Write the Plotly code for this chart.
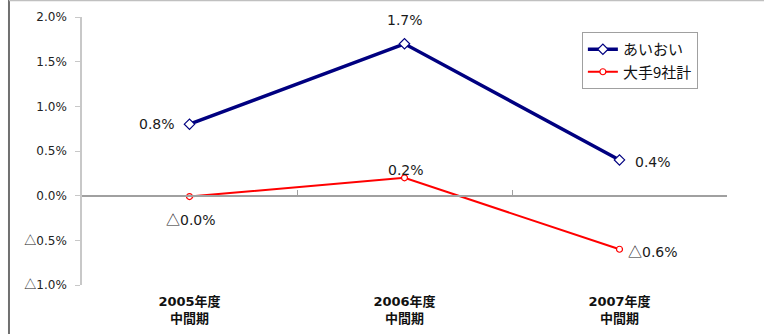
import plotly.graph_objects as go

categories = ["2005年度<br>中間期", "2006年度<br>中間期", "2007年度<br>中間期"]
aioi = [0.8, 1.7, 0.4]
big9 = [-0.01, 0.2, -0.6]
aioi_labels = ["0.8%", "1.7%", "0.4%"]
big9_labels = ["△0.0%", "0.2%", "△0.6%"]
ytick_vals = [2.0, 1.5, 1.0, 0.5, 0.0, -0.5, -1.0]
ytick_text = ["2.0%", "1.5%", "1.0%", "0.5%", "0.0%", "△0.5%", "△1.0%"]

xpos = [i + 0.5 for i in range(len(categories))]
FONT = "'DejaVu Sans', 'Noto Sans CJK JP', sans-serif"
CJK = "'Noto Sans CJK JP', 'DejaVu Sans', sans-serif"


def tri(s):
    # render the full-width triangle with the CJK font, as in the original
    return s.replace("△", "<span style='font-family:\"Noto Sans CJK JP\"'>△</span>")


fig = go.Figure()
fig.add_trace(go.Scatter(
    x=xpos, y=aioi, name="あいおい", mode="lines+markers",
    line=dict(color="#000080", width=3.5),
    marker=dict(symbol="diamond", size=8, color="white", line=dict(color="#000080", width=1.2)),
))
fig.add_trace(go.Scatter(
    x=xpos, y=big9, name="大手9社計", mode="lines+markers",
    line=dict(color="#FF0000", width=2),
    marker=dict(symbol="circle", size=6, color="white", line=dict(color="#FF0000", width=1.2)),
))
# invisible trace carrying the zero-line axis with boundary ticks
fig.add_trace(go.Scatter(x=[0, len(categories)], y=[0, 0], xaxis="x2", mode="lines",
                         line=dict(width=0), showlegend=False, hoverinfo="skip"))

# data label placement styles (offsets in px)
aioi_style = [dict(xanchor="right", yanchor="middle", xshift=-13, yshift=0),
              dict(xanchor="center", yanchor="middle", xshift=0, yshift=24),
              dict(xanchor="left", yanchor="middle", xshift=13, yshift=-2)]
big9_style = [dict(xanchor="center", yanchor="middle", xshift=1, yshift=-22),
              dict(xanchor="center", yanchor="middle", xshift=1, yshift=8),
              dict(xanchor="left", yanchor="middle", xshift=6, yshift=-2)]
annotations = []
for vals, labels, styles in ((aioi, aioi_labels, aioi_style), (big9, big9_labels, big9_style)):
    for x, y, t, s in zip(xpos, vals, labels, styles):
        annotations.append(dict(x=x, y=y, xref="x", yref="y", text=tri(t), showarrow=False,
                                font=dict(size=14, color="#1a1a1a", family=FONT), **s))

fig.update_layout(
    width=764, height=334,
    margin=dict(l=82, r=37, t=17, b=49, autoexpand=False),
    paper_bgcolor="white", plot_bgcolor="white",
    font=dict(family=FONT, size=12, color="#1a1a1a"),
    showlegend=True,
    legend=dict(x=0.775, y=0.944, xanchor="left", yanchor="top",
                bordercolor="#a0a0a0", borderwidth=1, bgcolor="white",
                font=dict(size=15, family=CJK, color="#111"), tracegroupgap=0),
    xaxis=dict(range=[0, len(categories)], tickvals=xpos,
               ticktext=["<b>" + c.replace("<br>", "</b><br><b>") + "</b>" for c in categories],
               showgrid=False, zeroline=False, showline=False, ticks="", automargin=False,
               tickfont=dict(size=13, family=FONT, color="#111"), ticklabelstandoff=7),
    xaxis2=dict(range=[0, len(categories)], overlaying="x", anchor="free", position=1/3,
                showline=True, linecolor="#a0a0a0", linewidth=1.5, automargin=False,
                tickvals=list(range(1, len(categories) + 1)), ticks="inside", ticklen=5,
                tickcolor="#a0a0a0", showticklabels=False, showgrid=False, zeroline=False),
    yaxis=dict(range=[-1.0, 2.0], tickvals=ytick_vals, ticktext=[tri(t) for t in ytick_text],
               showgrid=False, zeroline=False, showline=True, linecolor="#c8c8c8", linewidth=1.5,
               ticks="outside", ticklen=5, tickcolor="#c8c8c8", tickfont=dict(size=12, color="#222"),
               ticklabelstandoff=6, automargin=False),
    annotations=annotations,
    shapes=[
        dict(type="line", xref="paper", yref="paper", x0=-0.1132, x1=-0.1132, y0=-0.2, y1=1.07,
             line=dict(color="#707070", width=2)),
        dict(type="line", xref="paper", yref="paper", x0=-0.1132, x1=1.06, y0=1.0625, y1=1.0625,
             line=dict(color="#c0c0c0", width=2)),
    ],
)

fig.write_html("out.html")
